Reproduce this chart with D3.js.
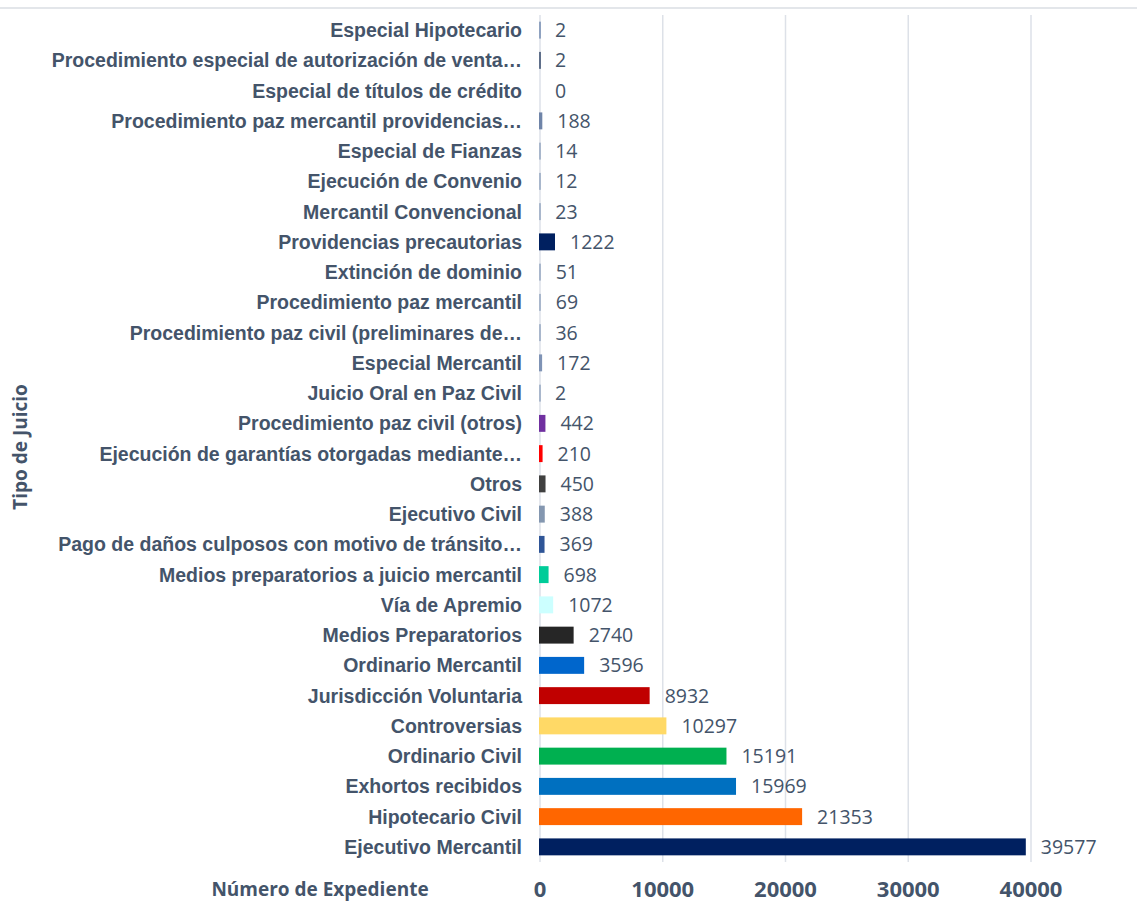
<!DOCTYPE html>
<html><head><meta charset="utf-8">
<script src="https://cdn.jsdelivr.net/npm/d3@7"></script>
<style>body{margin:0;background:#fff}svg{display:block}</style>
</head><body>
<svg id="c" width="1137" height="904"></svg>
<script>
const categories = [
 "Especial Hipotecario",
 "Procedimiento especial de autorización de venta…",
 "Especial de títulos de crédito",
 "Procedimiento paz mercantil providencias…",
 "Especial de Fianzas",
 "Ejecución de Convenio",
 "Mercantil Convencional",
 "Providencias precautorias",
 "Extinción de dominio",
 "Procedimiento paz mercantil ",
 "Procedimiento paz civil (preliminares de…",
 "Especial Mercantil",
 "Juicio Oral en Paz Civil",
 "Procedimiento paz civil (otros)",
 "Ejecución de garantías otorgadas mediante…",
 "Otros",
 "Ejecutivo Civil",
 "Pago de daños culposos con motivo de tránsito…",
 "Medios preparatorios a juicio mercantil",
 "Vía de Apremio",
 "Medios Preparatorios",
 "Ordinario Mercantil",
 "Jurisdicción Voluntaria",
 "Controversias",
 "Ordinario Civil",
 "Exhortos recibidos",
 "Hipotecario Civil",
 "Ejecutivo Mercantil"
];
const values = [2,2,0,188,14,12,23,1222,51,69,36,172,2,442,210,450,388,369,698,1072,2740,3596,8932,10297,15191,15969,21353,39577];
const barColors = ["#8FA2C0","#5F6F8A","#8FA2C0","#6F84A8","#A9B7CC","#A9B7CC","#A9B7CC","#002060","#A9B7CC","#A9B7CC","#A9B7CC","#7F93B5","#A9B7CC","#7030A0","#FF0000","#404040","#8497B0","#2F5597","#00CC99","#CCFFFF","#262626","#0066CC","#C00000","#FFD966","#00B050","#0070C0","#FF6600","#002060"];
const xTicks = [0,10000,20000,30000,40000];
const xTitle = "Número de Expediente";
const yTitle = "Tipo de Juicio";

const svg = d3.select("#c");
const textColor = "#44546A";
const plotTop = 15, plotBottom = 862;
const x = d3.scaleLinear().domain([0,40000]).range([540,1031]);
const y = d3.scaleBand().domain(categories).range([plotTop,plotBottom]).paddingInner(0.44).paddingOuter(0.22);

// top border line
svg.append("line").attr("x1",0).attr("x2",1137).attr("y1",8).attr("y2",8)
  .attr("stroke","#E3E6EA").attr("stroke-width",2);

// gridlines
svg.append("g").selectAll("line").data(xTicks).join("line")
  .attr("x1",d=>x(d)).attr("x2",d=>x(d)).attr("y1",plotTop).attr("y2",plotBottom)
  .attr("stroke","#DDE1E8").attr("stroke-width",1.5);

// bars
svg.append("g").selectAll("rect").data(values).join("rect")
  .attr("x",x(0)-1)
  .attr("y",(d,i)=>y(categories[i]))
  .attr("height",y.bandwidth())
  .attr("width",d=>d>0?Math.max(x(d)-x(0)+1,2):0)
  .attr("fill",(d,i)=>barColors[i]);

// value labels
svg.append("g").selectAll("text").data(values).join("text")
  .attr("x",d=>x(d)+15)
  .attr("y",(d,i)=>y(categories[i])+y.bandwidth()/2)
  .attr("dy","0.36em")
  .attr("font-family","Open Sans, sans-serif").attr("font-size",19.5)
  .attr("fill",textColor).text(d=>d);

// category labels
svg.append("g").selectAll("text").data(categories).join("text")
  .attr("x",522)
  .attr("y",d=>y(d)+y.bandwidth()/2)
  .attr("dy","0.36em").attr("text-anchor","end")
  .attr("font-family","Liberation Sans, Arial, sans-serif").attr("font-weight","bold").attr("font-size",19.5)
  .attr("fill",textColor).text(d=>d);

// x tick labels
svg.append("g").selectAll("text").data(xTicks).join("text")
  .attr("x",d=>x(d)).attr("y",897).attr("text-anchor","middle")
  .attr("font-family","Open Sans, sans-serif").attr("font-weight","bold").attr("font-size",22)
  .attr("fill",textColor).text(d=>d);

// axis titles
svg.append("text").attr("x",320).attr("y",896).attr("text-anchor","middle")
  .attr("font-family","Open Sans, sans-serif").attr("font-weight","bold").attr("font-size",19)
  .attr("fill",textColor).text(xTitle);
svg.append("text").attr("transform","translate(27,447) rotate(-90)").attr("text-anchor","middle")
  .attr("font-family","Open Sans, sans-serif").attr("font-weight","bold").attr("font-size",19)
  .attr("fill",textColor).text(yTitle);
</script>
</body></html>
